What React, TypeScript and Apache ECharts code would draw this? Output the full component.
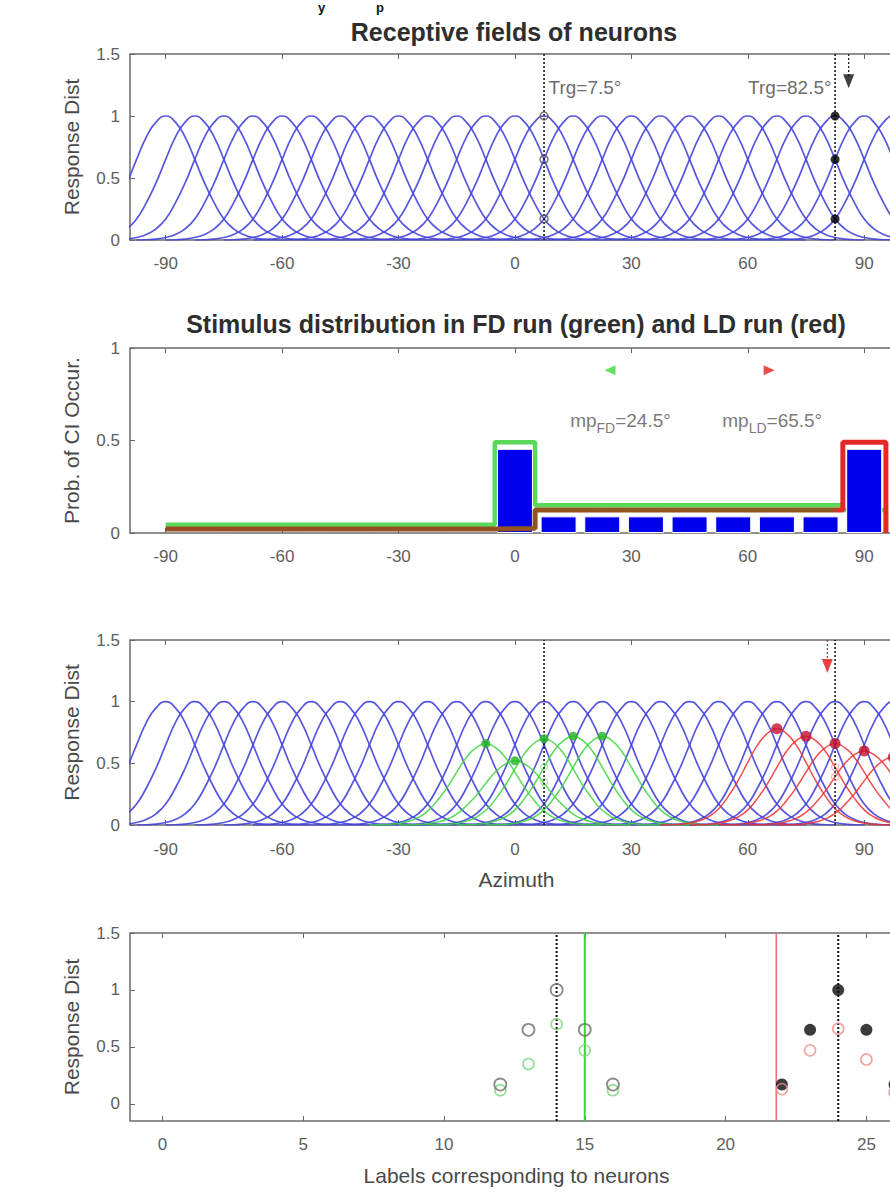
import React, { useEffect, useRef } from 'react';
import * as echarts from 'echarts';

// ---------- data ----------
const neuronCenters = [-90, -82.5, -75, -67.5, -60, -52.5, -45, -37.5, -30, -22.5, -15, -7.5, 0, 7.5, 15, 22.5, 30, 37.5, 45, 52.5, 60, 67.5, 75, 82.5, 90, 97.5];
const rfOffsets = [-30, -27.5, -25, -22.5, -20, -17.5, -15, -12.5, -10, -7.5, -5, -2.5, 0, 2.5, 5, 7.5, 10, 12.5, 15, 17.5, 20, 22.5, 25, 27.5, 30];
const rfProfile = [0, 0.002, 0.007, 0.02, 0.045, 0.09, 0.17, 0.3, 0.46, 0.65, 0.83, 0.95, 1, 0.95, 0.83, 0.65, 0.46, 0.3, 0.17, 0.09, 0.045, 0.02, 0.007, 0.002, 0];

const fdCenters = [-7.5, 0, 7.5, 15, 22.5];
const fdGains = [0.66, 0.52, 0.7, 0.72, 0.72];
const ldCenters = [67.5, 75, 82.5, 90, 97.5];
const ldGains = [0.78, 0.72, 0.66, 0.6, 0.55];

const targets = [7.5, 82.5];
const targetTexts = ['Trg=7.5°', 'Trg=82.5°'];
const targetResponses = [1, 0.65, 0.17];
const trgTextY = 1.23;
const arrowP1 = [86, 1.28];
const arrowP3 = [80.5, 1.29];
const p3HollowFD = [0.47, 0.35];
const p3HollowLD = [0.47, 0.39];

const azimuthTicks = [-90, -60, -30, 0, 30, 60, 90];
const labelTicks = [0, 5, 10, 15, 20, 25];
const respTicks = [0, 0.5, 1, 1.5];
const probTicks = [0, 0.5, 1];

// panel 2 – stimulus distributions
const stairEdges = [-90, -5.2, 5.2, 84.5, 95.6];
const fdLevels = [0.045, 0.49, 0.15, 0.125];
const ldLevels = [0.022, 0.025, 0.125, 0.49];
const stimCenters = [0, 11.25, 22.5, 33.75, 45, 56.25, 67.5, 78.75, 90];
const stimProbs = [0.455, 0.09, 0.09, 0.09, 0.09, 0.09, 0.09, 0.09, 0.455];
const mpFD = 24.5;
const mpLD = 65.5;
const mpMarkerY = 0.88;
const mpTextPos = [[27.2, 0.61], [66.3, 0.61]];

// panel 4 – labels
const trgLabels = [14, 24];
const fdLineLabel = 15;
const ldLineLabel = 21.8;
const labels1 = [12, 13, 14, 15, 16];
const resp1 = [0.17, 0.65, 1, 0.65, 0.17];
const resp1Adapted = [0.12, 0.35, 0.7, 0.47, 0.12];
const labels2 = [22, 23, 24, 25, 26];
const resp2 = [0.17, 0.65, 1, 0.65, 0.17];
const resp2Adapted = [0.13, 0.47, 0.66, 0.39, 0.1];

// ---------- styling ----------
const FONT = '"Liberation Sans", Arial, Helvetica, sans-serif';
const BLUE = '#4444dc';
const GREEN = '#3ad43a';
const RED = '#ee2e2e';
const TICK_COLOR = '#5e5e5e';

function curve(center: number, gain: number) {
  return rfOffsets.map((o, i) => [center + o, rfProfile[i] * gain]);
}
function stairs(edges: number[], levels: number[]) {
  const pts: number[][] = [];
  levels.forEach((v, i) => {
    pts.push([edges[i], v]);
    pts.push([edges[i + 1], v]);
  });
  pts.push([edges[edges.length - 1], 0]);
  return pts;
}

export default function App() {
  const ref = useRef<HTMLDivElement>(null);
  useEffect(() => {
    if (!ref.current) return;
    const chart = echarts.init(ref.current, undefined, { renderer: 'svg' });

    const gridDefs = [
      { left: 130, top: 54, width: 773, height: 186 },
      { left: 130, top: 348, width: 773, height: 185 },
      { left: 130, top: 640, width: 773, height: 185 },
      { left: 130, top: 933, width: 773, height: 188 },
    ];
    const grid = gridDefs.map((g) => ({
      ...g, show: true, borderColor: '#6b6b6b', borderWidth: 1.5, backgroundColor: '#fff',
      containLabel: false, outerBoundsMode: 'none',
    }));

    const xRanges = [[-99.2, 100], [-99.2, 100], [-99.2, 100], [-1.15, 26.3]];
    const xTicks = [azimuthTicks, azimuthTicks, azimuthTicks, labelTicks];
    const xNames = ['', '', 'Azimuth', 'Labels corresponding to neurons'];
    const xMargins = [15, 15, 16, 15];

    const xAxis: any[] = [];
    for (let i = 0; i < 4; i++) {
      xAxis.push({
        type: 'value', gridIndex: i, position: 'bottom', min: xRanges[i][0], max: xRanges[i][1],
        axisLine: { show: false, onZero: false }, splitLine: { show: false },
        axisTick: { show: true, inside: true, length: 5, customValues: xTicks[i], lineStyle: { color: '#666' } },
        axisLabel: { customValues: xTicks[i], fontSize: 17, color: TICK_COLOR, fontFamily: FONT, margin: xMargins[i] },
        name: xNames[i], nameLocation: 'middle', nameGap: 44,
        nameTextStyle: { fontSize: 21, color: '#4a4a4a', fontFamily: FONT },
      });
    }
    for (let i = 0; i < 4; i++) {
      xAxis.push({
        type: 'value', gridIndex: i, position: 'top', min: xRanges[i][0], max: xRanges[i][1],
        axisLine: { show: false, onZero: false }, splitLine: { show: false },
        axisTick: { show: true, inside: true, length: 5, customValues: xTicks[i], lineStyle: { color: '#666' } },
        axisLabel: { show: false },
      });
    }
    const yRanges = [[0, 1.5], [0, 1], [0, 1.5], [-0.15, 1.5]];
    const yTicks = [respTicks, probTicks, respTicks, respTicks];
    const yNames = ['Response Dist', 'Prob. of CI Occur.', 'Response Dist', 'Response Dist'];
    const yAxis = yRanges.map((r, i) => ({
      type: 'value', gridIndex: i, position: 'left', min: r[0], max: r[1],
      axisLine: { show: false, onZero: false }, splitLine: { show: false },
      axisTick: { show: true, inside: true, length: 5, customValues: yTicks[i], lineStyle: { color: '#666' } },
      axisLabel: { customValues: yTicks[i], fontSize: 17, color: TICK_COLOR, fontFamily: FONT, margin: 10 },
      name: yNames[i], nameLocation: 'middle', nameGap: 48, nameRotate: 90,
      nameTextStyle: { fontSize: 21, color: '#4a4a4a', fontFamily: FONT },
    }));

    const series: any[] = [];
    const ax = (p: number) => ({ xAxisIndex: p, yAxisIndex: p });

    // receptive fields in panels 1 and 3
    [0, 2].forEach((p) => {
      neuronCenters.forEach((c) => {
        series.push({
          type: 'line', ...ax(p), data: curve(c, 1), smooth: true, symbol: 'none', silent: true,
          lineStyle: { color: BLUE, width: 1.7, opacity: 0.9 }, z: 2,
        });
      });
    });
    // adapted curves in panel 3
    fdCenters.forEach((c, i) => {
      series.push({ type: 'line', ...ax(2), data: curve(c, fdGains[i]), smooth: true, symbol: 'none', silent: true, lineStyle: { color: GREEN, width: 1.5, opacity: 0.85 }, z: 3 });
    });
    ldCenters.forEach((c, i) => {
      series.push({ type: 'line', ...ax(2), data: curve(c, ldGains[i]), smooth: true, symbol: 'none', silent: true, lineStyle: { color: RED, width: 1.5, opacity: 0.85 }, z: 3 });
    });
    series.push({ type: 'scatter', ...ax(2), data: fdCenters.map((c, i) => [c, fdGains[i]]), symbolSize: 9, itemStyle: { color: '#22b522' }, z: 6 });
    series.push({ type: 'scatter', ...ax(2), data: ldCenters.map((c, i) => [c, ldGains[i]]), symbolSize: 11, itemStyle: { color: '#c4102c' }, z: 6 });
    series.push({ type: 'scatter', ...ax(2), data: p3HollowFD.map((v) => [targets[0], v]), symbolSize: 7, itemStyle: { color: 'rgba(0,0,0,0)', borderColor: '#8ee08e', borderWidth: 1.2 }, z: 6 });
    series.push({ type: 'scatter', ...ax(2), data: p3HollowLD.map((v) => [targets[1], v]), symbolSize: 7, itemStyle: { color: 'rgba(0,0,0,0)', borderColor: '#f4a0a0', borderWidth: 1.2 }, z: 6 });

    // target lines
    [0, 2].forEach((p) => {
      targets.forEach((t) => {
        series.push({ type: 'line', ...ax(p), data: [[t, 0], [t, 1.5]], symbol: 'none', silent: true, lineStyle: { color: '#1a1a1a', width: 1.6, type: [2, 2] }, z: 5 });
      });
    });
    // panel 1 markers
    series.push({ type: 'scatter', ...ax(0), data: targetResponses.map((v) => [targets[0], v]), symbolSize: 8, itemStyle: { color: 'rgba(0,0,0,0)', borderColor: '#555', borderWidth: 1.5 }, z: 6 });
    series.push({ type: 'scatter', ...ax(0), data: targetResponses.map((v) => [targets[1], v]), symbolSize: 9, itemStyle: { color: '#000' }, z: 6 });
    // target texts
    series.push({
      type: 'scatter', ...ax(0), data: [[targets[0], trgTextY]], symbolSize: 1, itemStyle: { color: 'rgba(0,0,0,0)' }, z: 7,
      label: { show: true, position: 'right', distance: 4, formatter: targetTexts[0], fontSize: 19, color: '#444', fontFamily: FONT },
    });
    series.push({
      type: 'scatter', ...ax(0), data: [[targets[1], trgTextY]], symbolSize: 1, itemStyle: { color: 'rgba(0,0,0,0)' }, z: 7,
      label: { show: true, position: 'left', distance: 3, formatter: targetTexts[1], fontSize: 19, color: '#444', fontFamily: FONT },
    });
    // arrows
    series.push({ type: 'line', ...ax(0), data: [[arrowP1[0], 1.5], [arrowP1[0], arrowP1[1] + 0.04]], symbol: 'none', silent: true, lineStyle: { color: '#222', width: 1.3, type: [2, 2] }, z: 5 });
    series.push({ type: 'scatter', ...ax(0), data: [arrowP1], symbol: 'triangle', symbolRotate: 180, symbolSize: [11, 14], itemStyle: { color: '#111' }, z: 6 });
    series.push({ type: 'line', ...ax(2), data: [[arrowP3[0], 1.5], [arrowP3[0], arrowP3[1] + 0.04]], symbol: 'none', silent: true, lineStyle: { color: '#e03030', width: 1.3, type: [2, 2] }, z: 5 });
    series.push({ type: 'scatter', ...ax(2), data: [arrowP3], symbol: 'triangle', symbolRotate: 180, symbolSize: [11, 14], itemStyle: { color: '#d81818' }, z: 6 });

    // panel 2
    series.push({ type: 'line', ...ax(1), data: stairs(stairEdges, fdLevels), symbol: 'none', silent: true, lineStyle: { color: '#5ad85a', width: 4.5 }, z: 2 });
    series.push({
      type: 'bar', ...ax(1), data: stimCenters.map((c, i) => [c, stimProbs[i]]), barWidth: 36, silent: true,
      itemStyle: { color: '#0000ec', borderColor: '#ffffff', borderWidth: 1 }, z: 3,
    });
    series.push({
      type: 'line', ...ax(1), data: stairs(stairEdges, ldLevels), symbol: 'none', silent: true,
      lineStyle: {
        width: 5,
        color: new echarts.graphic.LinearGradient(0, 0, 1, 0, [
          { offset: 0, color: '#9c4a22' }, { offset: 0.925, color: '#8a5a1c' },
          { offset: 0.935, color: '#e42828' }, { offset: 1, color: '#e42828' },
        ]),
      },
      z: 4,
    });
    series.push({ type: 'scatter', ...ax(1), data: [[mpFD, mpMarkerY]], symbol: 'triangle', symbolRotate: 90, symbolSize: [10, 11], itemStyle: { color: '#3ad83a' }, z: 6 });
    series.push({ type: 'scatter', ...ax(1), data: [[mpLD, mpMarkerY]], symbol: 'triangle', symbolRotate: -90, symbolSize: [10, 11], itemStyle: { color: '#e42020' }, z: 6 });
    const mpRich = {
      a: { fontSize: 19, color: '#555', fontFamily: FONT, lineHeight: 30, verticalAlign: 'middle' },
      b: { fontSize: 14, color: '#555', fontFamily: FONT, lineHeight: 30, verticalAlign: 'bottom' },
    };
    series.push({
      type: 'scatter', ...ax(1), data: [mpTextPos[0]], symbolSize: 1, itemStyle: { color: 'rgba(0,0,0,0)' }, z: 7,
      label: { show: true, position: 'inside', formatter: '{a|mp}{b|FD}{a|=' + mpFD + '°}', rich: mpRich },
    });
    series.push({
      type: 'scatter', ...ax(1), data: [mpTextPos[1]], symbolSize: 1, itemStyle: { color: 'rgba(0,0,0,0)' }, z: 7,
      label: { show: true, position: 'inside', formatter: '{a|mp}{b|LD}{a|=' + mpLD + '°}', rich: mpRich },
    });

    // panel 4
    trgLabels.forEach((t) => {
      series.push({ type: 'line', ...ax(3), data: [[t, -0.15], [t, 1.5]], symbol: 'none', silent: true, lineStyle: { color: '#111', width: 2, type: [2, 2] }, z: 3 });
    });
    series.push({ type: 'line', ...ax(3), data: [[fdLineLabel, -0.15], [fdLineLabel, 1.5]], symbol: 'none', silent: true, lineStyle: { color: '#3cd23c', width: 2 }, z: 3 });
    series.push({ type: 'line', ...ax(3), data: [[ldLineLabel, -0.15], [ldLineLabel, 1.5]], symbol: 'none', silent: true, lineStyle: { color: '#f07070', width: 1.6 }, z: 3 });
    series.push({ type: 'scatter', ...ax(3), data: labels1.map((l, i) => [l, resp1Adapted[i]]), symbolSize: 11, itemStyle: { color: 'rgba(0,0,0,0)', borderColor: '#7ad67a', borderWidth: 1.6 }, z: 5 });
    series.push({ type: 'scatter', ...ax(3), data: labels1.map((l, i) => [l, resp1[i]]), symbolSize: 12, itemStyle: { color: 'rgba(0,0,0,0)', borderColor: '#6e6e6e', borderWidth: 1.8 }, z: 6 });
    series.push({ type: 'scatter', ...ax(3), data: labels2.map((l, i) => [l, resp2[i]]), symbolSize: 12, itemStyle: { color: '#0a0a0a' }, z: 6 });
    series.push({ type: 'scatter', ...ax(3), data: labels2.map((l, i) => [l, resp2Adapted[i]]), symbolSize: 11, itemStyle: { color: 'rgba(0,0,0,0)', borderColor: '#f08a8a', borderWidth: 1.6 }, z: 7 });

    const titleStyle = { font: 'bold 25px ' + FONT, fill: '#2e2e2e', align: 'center', verticalAlign: 'middle' };
    const graphic: any[] = [
      { type: 'text', x: 514, y: 32, style: { ...titleStyle, text: 'Receptive fields of neurons' } },
      { type: 'text', x: 516, y: 324, style: { ...titleStyle, text: 'Stimulus distribution in FD run (green) and LD run (red)' } },
      { type: 'text', x: 318, y: 1, style: { text: 'y', font: 'bold 13px ' + FONT, fill: '#111', align: 'left', verticalAlign: 'top' } },
      { type: 'text', x: 376, y: 1, style: { text: 'p', font: 'bold 13px ' + FONT, fill: '#111', align: 'left', verticalAlign: 'top' } },
    ];

    chart.setOption({ animation: false, backgroundColor: '#fff', grid, xAxis, yAxis, series, graphic });
    return () => chart.dispose();
  }, []);

  return <div ref={ref} style={{ position: 'fixed', left: 0, top: 0, width: 890, height: 1200, background: '#fff' }} />;
}
